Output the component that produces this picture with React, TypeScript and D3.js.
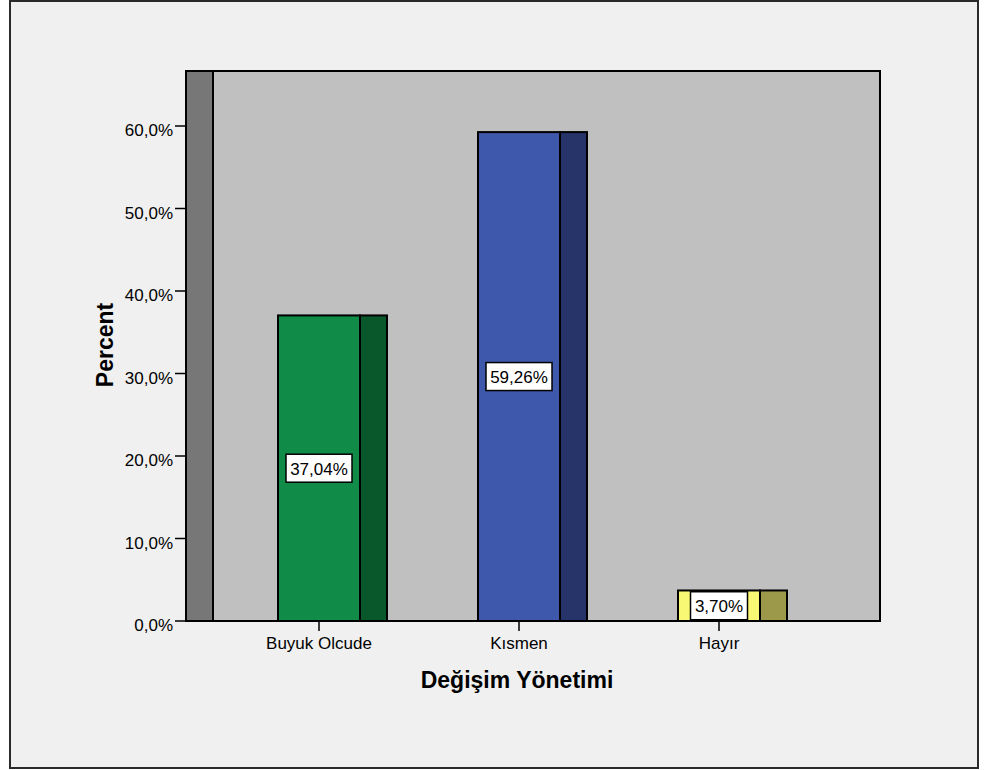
import React from "react";
import * as d3 from "d3";

// Category labels and their percentages
const categories: string[] = ["Buyuk Olcude", "Kısmen", "Hayır"];
const percents: number[] = [37.04, 59.26, 3.7];
const valueLabels: string[] = ["37,04%", "59,26%", "3,70%"];

// Y axis ticks
const yTicks: number[] = [0, 10, 20, 30, 40, 50, 60];
const yTickLabels: string[] = ["0,0%", "10,0%", "20,0%", "30,0%", "40,0%", "50,0%", "60,0%"];

// Front and side face colours per category
const frontColors: string[] = ["#118C48", "#3E59AB", "#F9F874"];
const sideColors: string[] = ["#08582C", "#26346A", "#9C9A4A"];

const W = 984;
const H = 770;
const FONT = "Arial, 'Liberation Sans', Helvetica, sans-serif";

export default function App() {
  const left = 186;
  const right = 880;
  const top = 71;
  const bottom = 621;
  const depth = 27;
  const barW = 82;

  const y = d3.scaleLinear().domain([0, 60]).range([bottom, 126]);
  const x = d3.scalePoint<string>().domain(categories).range([319, 719]);

  const labelW = (s: string) => s.length * 9 + 12;

  return (
    <svg
      width={W}
      height={H}
      style={{ position: "absolute", left: 0, top: 0, background: "#ffffff" }}
      fontFamily={FONT}
    >
      {/* outer frame */}
      <rect x={10} y={1} width={968} height={767} fill="#F0F0F0" stroke="#2a2a2a" strokeWidth={2} />

      {/* plot floor and back wall */}
      <rect x={left} y={top} width={right - left} height={bottom - top} fill="#C0C0C0" />
      <rect x={left} y={top} width={depth} height={bottom - top} fill="#777777" stroke="#000" strokeWidth={2} />

      {/* bars */}
      {categories.map((c, i) => {
        const cx = x(c) as number;
        const yt = y(percents[i]);
        return (
          <g key={c}>
            <rect x={cx - barW / 2} y={yt} width={barW} height={bottom - yt} fill={frontColors[i]} stroke="#000" strokeWidth={2} />
            <rect x={cx + barW / 2} y={yt} width={depth} height={bottom - yt} fill={sideColors[i]} stroke="#000" strokeWidth={2} />
          </g>
        );
      })}

      {/* plot border */}
      <rect x={left} y={top} width={right - left} height={bottom - top} fill="none" stroke="#000" strokeWidth={2} />

      {/* value labels */}
      {categories.map((c, i) => {
        const cx = x(c) as number;
        const cy = (y(percents[i]) + bottom) / 2;
        const lw = labelW(valueLabels[i]);
        return (
          <g key={"v" + c}>
            <rect x={cx - lw / 2} y={cy - 14} width={lw} height={28} fill="#fff" stroke="#000" strokeWidth={1.5} />
            <text x={cx} y={cy + 6.5} textAnchor="middle" fontSize={17} fill="#000">
              {valueLabels[i]}
            </text>
          </g>
        );
      })}

      {/* y axis ticks */}
      {yTicks.map((t, i) => (
        <g key={"y" + t}>
          <line x1={175} x2={left} y1={y(t)} y2={y(t)} stroke="#000" strokeWidth={1.5} />
          <text x={173} y={y(t) + 10} textAnchor="end" fontSize={17} fill="#000">
            {yTickLabels[i]}
          </text>
        </g>
      ))}

      {/* x axis ticks */}
      {categories.map((c) => {
        const cx = x(c) as number;
        return (
          <g key={"x" + c}>
            <line x1={cx} x2={cx} y1={bottom} y2={631} stroke="#000" strokeWidth={1.5} />
            <text x={cx} y={649} textAnchor="middle" fontSize={17} fill="#000">
              {c}
            </text>
          </g>
        );
      })}

      {/* axis titles */}
      <text x={517} y={688} textAnchor="middle" fontSize={23} fontWeight="bold" fill="#000">
        Değişim Yönetimi
      </text>
      <text
        transform={`translate(113, 345) rotate(-90)`}
        textAnchor="middle"
        fontSize={23}
        fontWeight="bold"
        fill="#000"
      >
        Percent
      </text>
    </svg>
  );
}
